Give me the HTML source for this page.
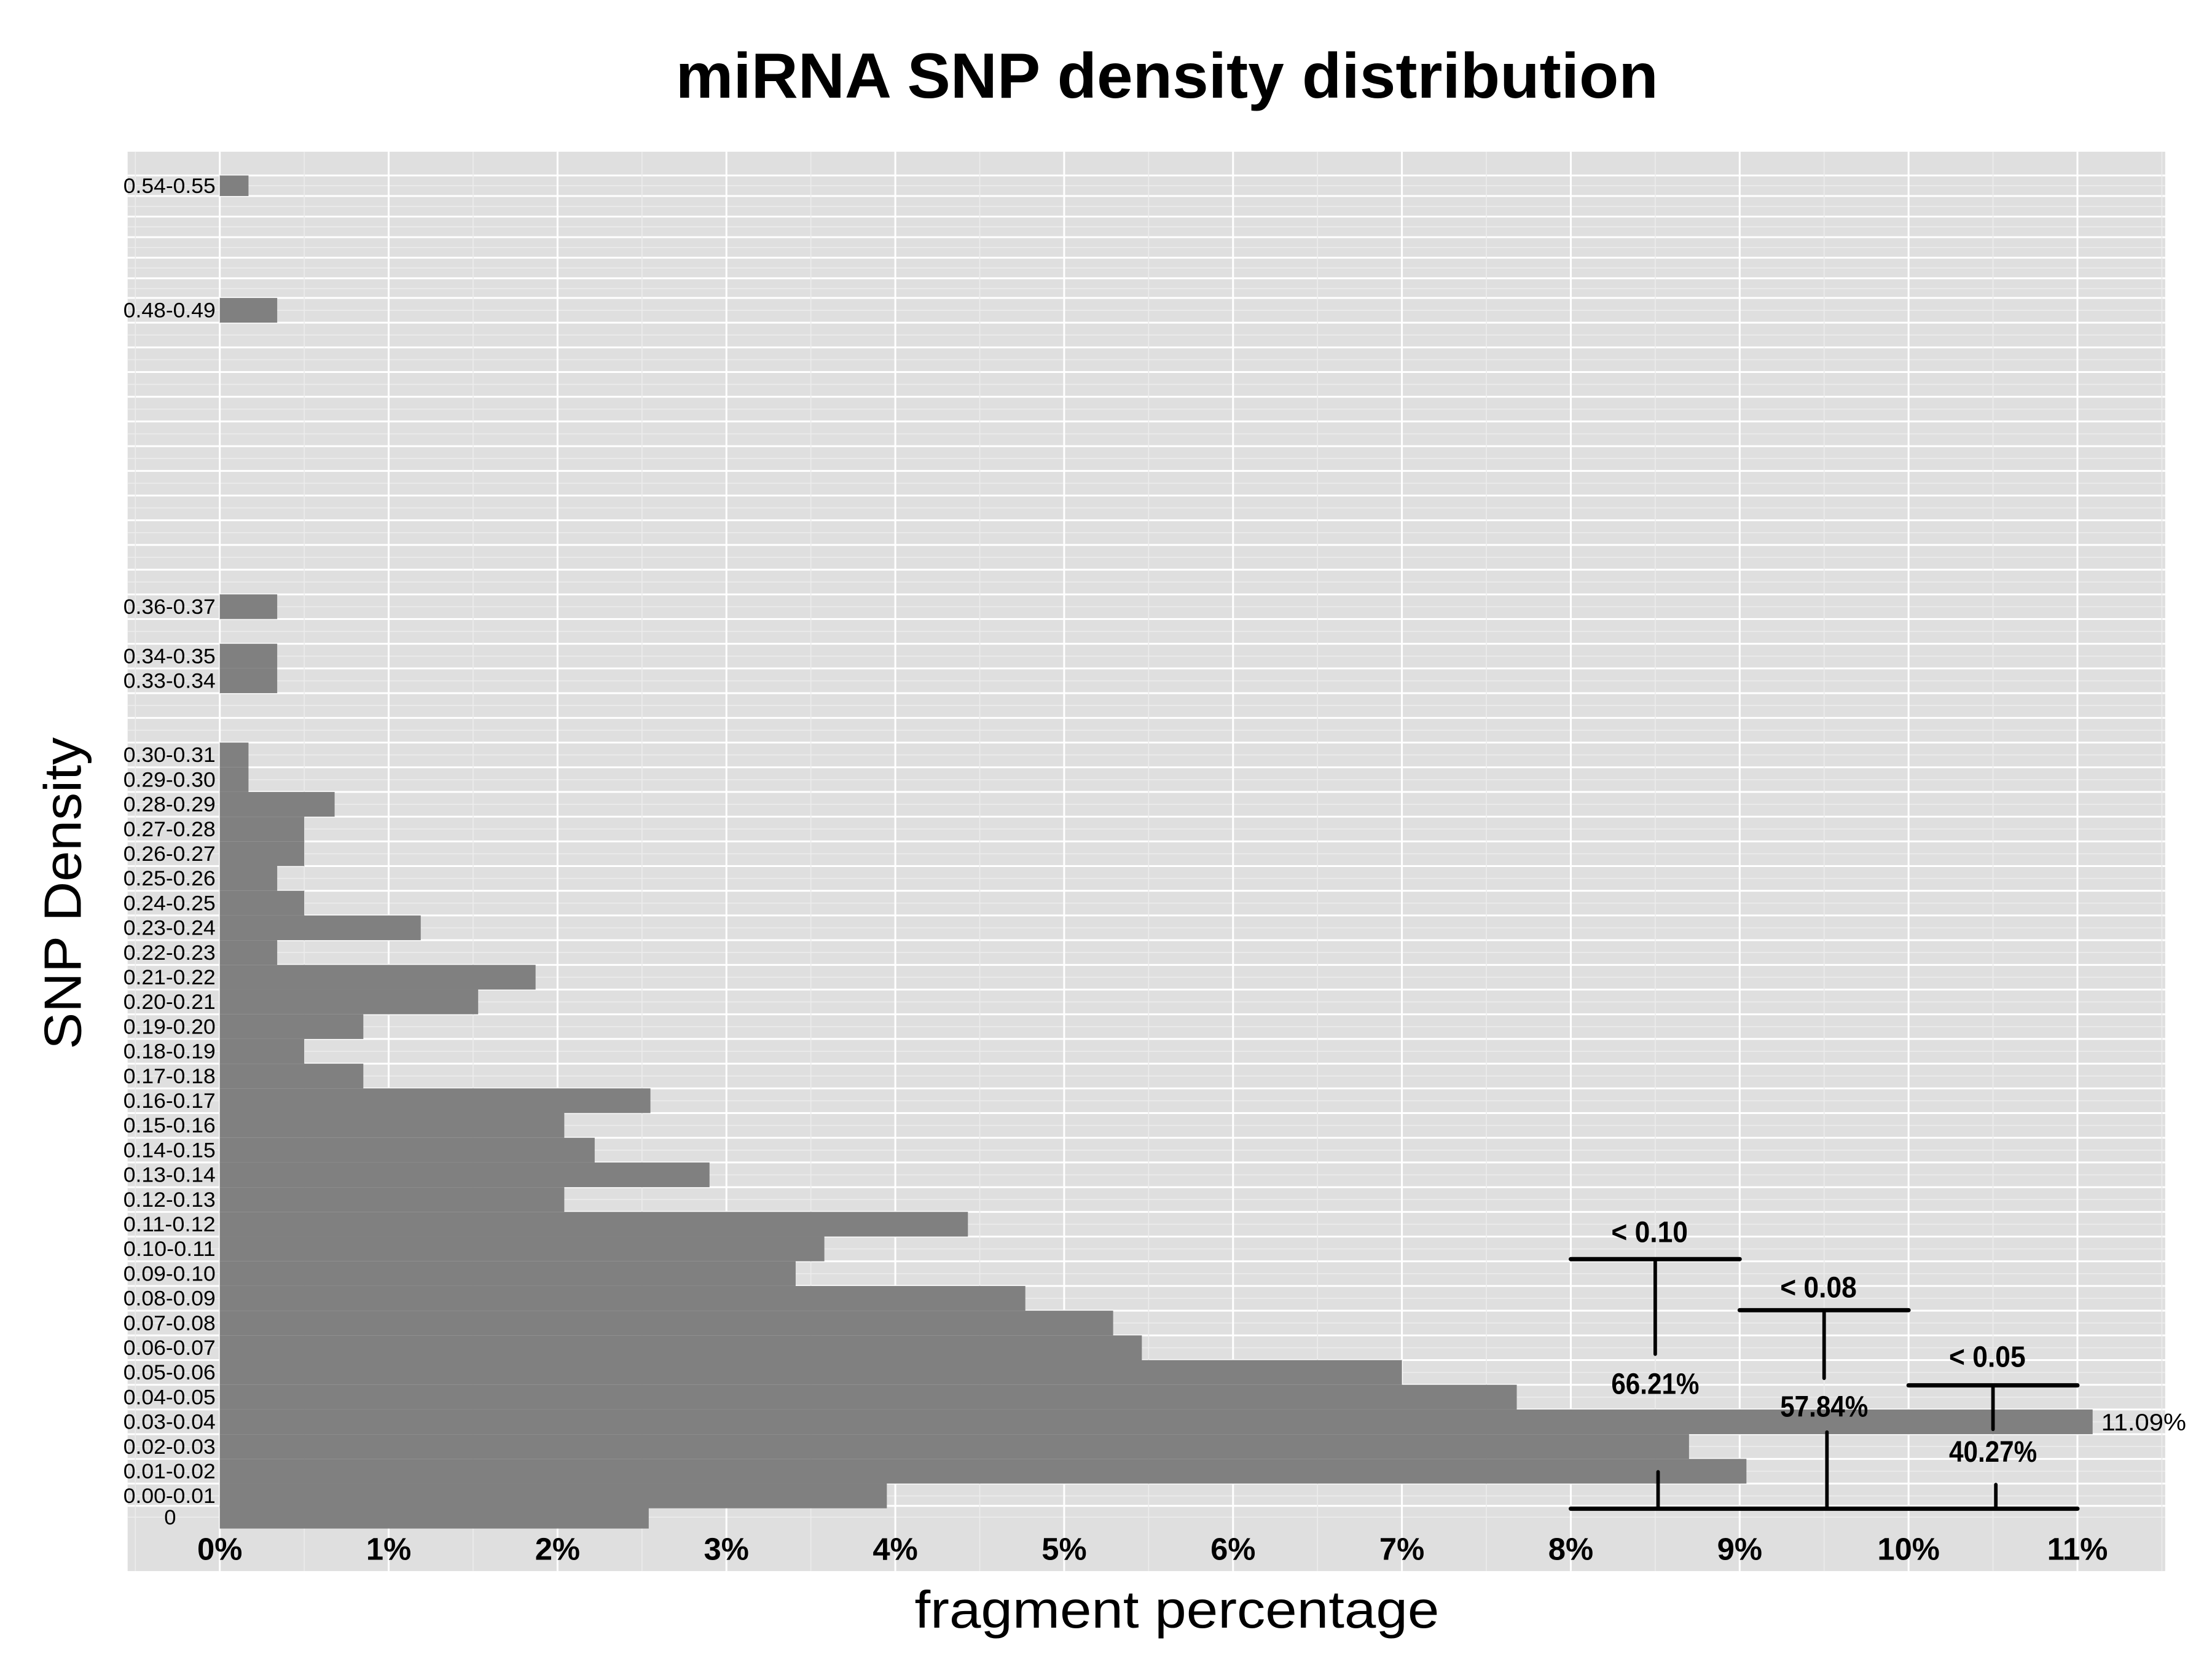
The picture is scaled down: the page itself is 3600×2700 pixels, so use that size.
<!DOCTYPE html>
<html><head><meta charset="utf-8">
<style>
html,body{margin:0;padding:0;background:#fff;}
svg{display:block;}
text{font-family:"Liberation Sans",sans-serif;}
</style></head>
<body>
<svg id="chart" width="3600" height="2700" viewBox="0 0 1560 1170" xmlns="http://www.w3.org/2000/svg">
<rect x="0" y="0" width="1560" height="1170" fill="#fff"/>
<text x="823" y="69" text-anchor="middle" font-size="45" font-weight="bold" textLength="693" lengthAdjust="spacingAndGlyphs">miRNA SNP density distribution</text>
<rect x="90" y="107" width="1437" height="1001" fill="#dfdfdf"/>
<g id="grid"></g>
<g id="bars"></g>
<g id="ylabels"></g>
<g id="xticks"></g>
<g id="annot"></g>
<text transform="translate(57,630) rotate(-90)" text-anchor="middle" font-size="37" textLength="220" lengthAdjust="spacingAndGlyphs">SNP Density</text>
<text x="830" y="1148" text-anchor="middle" font-size="37" textLength="370" lengthAdjust="spacingAndGlyphs">fragment percentage</text>
</svg>
<script>
const categories = ["0","0.00-0.01","0.01-0.02","0.02-0.03","0.03-0.04","0.04-0.05","0.05-0.06","0.06-0.07","0.07-0.08","0.08-0.09","0.09-0.10","0.10-0.11","0.11-0.12","0.12-0.13","0.13-0.14","0.14-0.15","0.15-0.16","0.16-0.17","0.17-0.18","0.18-0.19","0.19-0.20","0.20-0.21","0.21-0.22","0.22-0.23","0.23-0.24","0.24-0.25","0.25-0.26","0.26-0.27","0.27-0.28","0.28-0.29","0.29-0.30","0.30-0.31","0.31-0.32","0.32-0.33","0.33-0.34","0.34-0.35","0.35-0.36","0.36-0.37","0.37-0.38","0.38-0.39","0.39-0.40","0.40-0.41","0.41-0.42","0.42-0.43","0.43-0.44","0.44-0.45","0.45-0.46","0.46-0.47","0.47-0.48","0.48-0.49","0.49-0.50","0.50-0.51","0.51-0.52","0.52-0.53","0.53-0.54","0.54-0.55"];
const values = [2.54,3.95,9.04,8.70,11.09,7.68,7.00,5.46,5.29,4.77,3.41,3.58,4.43,2.04,2.90,2.22,2.04,2.55,0.85,0.50,0.85,1.53,1.87,0.34,1.19,0.50,0.34,0.50,0.50,0.68,0.17,0.17,0,0,0.34,0.34,0,0.34,0,0,0,0,0,0,0,0,0,0,0,0.34,0,0,0,0,0,0.17];
const xTicks = [0,1,2,3,4,5,6,7,8,9,10,11];
const xTickLabels = ["0%","1%","2%","3%","4%","5%","6%","7%","8%","9%","10%","11%"];
const maxLabel = "11.09%";
const brackets = [
  {label:"< 0.10", pct:"66.21%", from:8, to:9},
  {label:"< 0.08", pct:"57.84%", from:9, to:10},
  {label:"< 0.05", pct:"40.27%", from:10, to:11}
];

const NS="http://www.w3.org/2000/svg";
const X0=155, PX=119.1;
const xs = v => X0 + v*PX;
// row centre positions (reference uses non-uniform band spacing)
function ys(i){
  if(i===0) return 1070;
  if(i<=49) return 1055 - (i-1)*17.42;
  return 218 - (i-49)*14.5;
}
function bandH(i){ return i===0?16 : (i<=49?17.42:14.5); }
function mk(tag, attrs, parent){const e=document.createElementNS(NS,tag);for(const k in attrs)e.setAttribute(k,attrs[k]);parent.appendChild(e);return e;}

const grid=document.getElementById('grid');
for(let i=0;i<categories.length;i++){
  const l=mk('line',{x1:90,x2:1527,y1:ys(i)-bandH(i)/2,y2:ys(i)-bandH(i)/2,stroke:'#fff','stroke-width':1.3},grid);
  
  
  const m=mk('line',{x1:90,x2:1527,y1:ys(i),y2:ys(i),stroke:'#ececec','stroke-width':0.7},grid);
  
  
}
for(let v=-0.5; v<=11.5; v+=0.5){
  const major = Number.isInteger(v);
  const l=mk('line',{x1:xs(v),x2:xs(v),y1:107,y2:1108,stroke:major?'#fff':'#ececec','stroke-width':major?1.3:0.7},grid);
  
  
}

const bars=document.getElementById('bars');
const yl=document.getElementById('ylabels');
values.forEach((v,i)=>{
  if(v<=0) return;
  const h=bandH(i);
  const r=mk('rect',{x:xs(0),y:ys(i)-h/2,width:xs(v)-xs(0),height:h,fill:'#808080'},bars);
  
  
  let t;
  if(categories[i]==="0"){
    t=mk('text',{x:120,y:ys(i)+5,'text-anchor':'middle','font-size':15},yl);
  } else {
    t=mk('text',{x:152,y:ys(i)+5,'text-anchor':'end','font-size':15,textLength:65,lengthAdjust:'spacingAndGlyphs'},yl);
  }
  
  
  t.textContent = categories[i];
});
const maxIdx = values.indexOf(Math.max(...values));
const ml=mk('text',{x:xs(values[maxIdx])+6,y:ys(maxIdx)+6,'font-size':17,textLength:60,lengthAdjust:'spacingAndGlyphs'},bars);


ml.textContent=maxLabel;

const xt=document.getElementById('xticks');
xTicks.forEach((v,k)=>{
  const t=mk('text',{x:xs(v),y:1100,'text-anchor':'middle','font-size':22,'font-weight':'bold'},xt);
  
  
  t.textContent=xTickLabels[k];
});

const an=document.getElementById('annot');
const bottomY=1064;
const topYs=[888,924,977];
const lblYs=[876,915,964];
const pctYs=[983,999,1031];
const midEnd=[955,972,1008];
const lowStart=[1038,1010,1047];
const bl=mk('line',{x1:xs(8),x2:xs(11),y1:bottomY,y2:bottomY,stroke:'#000','stroke-width':3,'stroke-linecap':'round'},an);


brackets.forEach((b,k)=>{
  const cx=xs((b.from+b.to)/2);
  const g=mk('g',{},an);
  
  
  mk('line',{x1:xs(b.from),x2:xs(b.to),y1:topYs[k],y2:topYs[k],stroke:'#000','stroke-width':3,'stroke-linecap':'round'},g);
  mk('line',{x1:cx,x2:cx,y1:topYs[k],y2:midEnd[k],stroke:'#000','stroke-width':2.5,'stroke-linecap':'round'},g);
  mk('line',{x1:cx+2,x2:cx+2,y1:lowStart[k],y2:bottomY,stroke:'#000','stroke-width':2.5,'stroke-linecap':'round'},g);
  const t1=mk('text',{x:cx-4,y:lblYs[k],'text-anchor':'middle','font-size':21,'font-weight':'bold',textLength:54,lengthAdjust:'spacingAndGlyphs'},g);
  t1.textContent=b.label;
  const t2=mk('text',{x:cx,y:pctYs[k],'text-anchor':'middle','font-size':21,'font-weight':'bold',textLength:62,lengthAdjust:'spacingAndGlyphs'},g);
  t2.textContent=b.pct;
});
</script>
</body></html>
